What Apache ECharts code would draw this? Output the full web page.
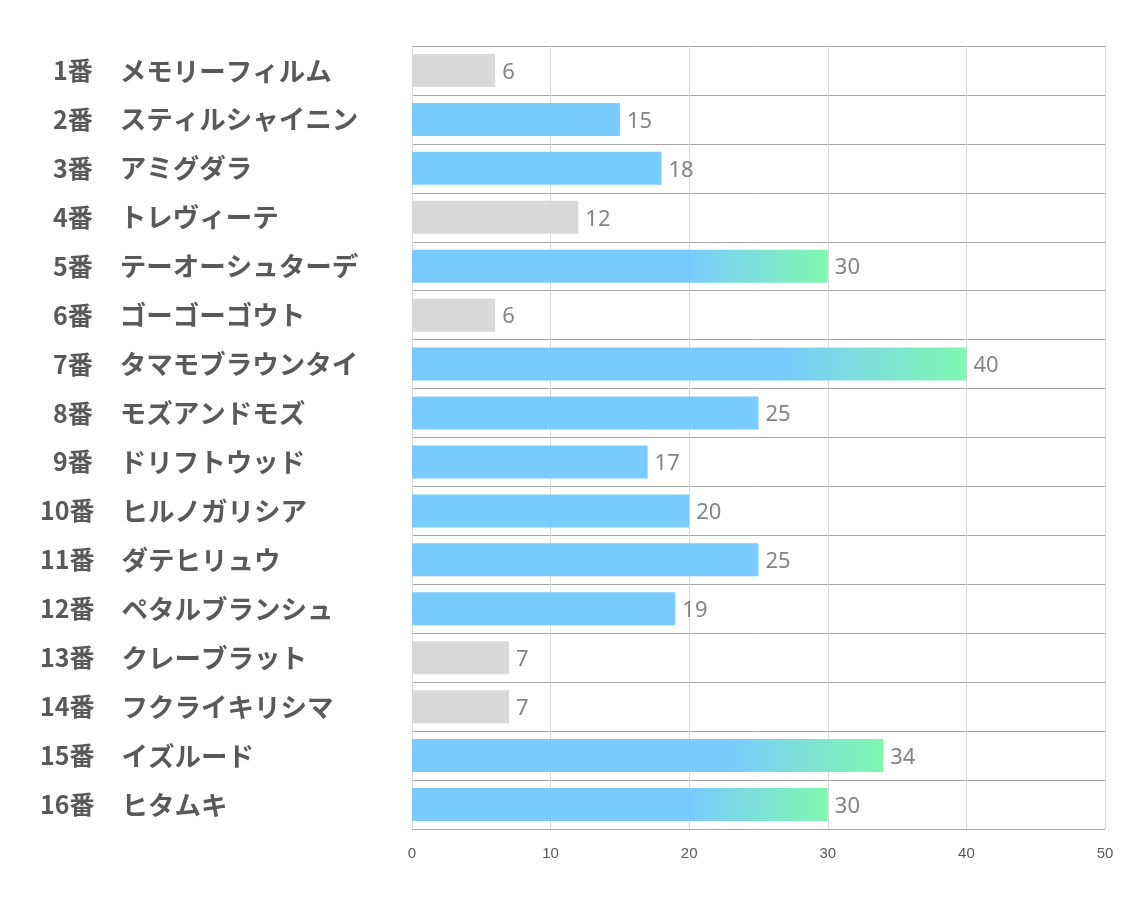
<!DOCTYPE html>
<html><head><meta charset="utf-8">
<script src="https://cdn.jsdelivr.net/npm/echarts@6/dist/echarts.min.js"></script>
<style>html,body{margin:0;padding:0;background:#fff}#c{width:1134px;height:907px}</style>
</head><body><div id="c"></div>
<script>
const numbers = ['1番','2番','3番','4番','5番','6番','7番','8番','9番','10番','11番','12番','13番','14番','15番','16番'];
const names = ['メモリーフィルム','スティルシャイニン','アミグダラ','トレヴィーテ','テーオーシュターデ','ゴーゴーゴウト','タマモブラウンタイ','モズアンドモズ','ドリフトウッド','ヒルノガリシア','ダテヒリュウ','ペタルブランシュ','クレーブラット','フクライキリシマ','イズルード','ヒタムキ'];
const values = [6,15,18,12,30,6,40,25,17,20,25,19,7,7,34,30];
const xTicks = [0,10,20,30,40,50];

const GREY = 'rgb(213,213,213)';
const BLUE = 'rgb(107,197,255)';
const GREEN = 'rgb(114,247,167)';
function colorFor(v){
  if (v <= 12) return GREY;
  if (v >= 30) return new echarts.graphic.LinearGradient(0,0,1,0,[
    {offset:0,color:BLUE},{offset:0.66,color:BLUE},{offset:1,color:GREEN}]);
  return BLUE;
}
const cats = numbers.map((n,i)=> n + '|' + names[i]);
const chart = echarts.init(document.getElementById('c'));
const LBL = {fontWeight:'bold',color:'#595959',fontFamily:'Noto Sans CJK JP'};
chart.setOption({
  animation:false,
  grid:{left:412,right:29,top:46,bottom:78,containLabel:false},
  xAxis:{type:'value',min:0,max:50,interval:10,
    axisLine:{show:false},axisTick:{show:false},
    axisLabel:{margin:17,color:'#595959',fontSize:15,fontFamily:'Liberation Sans Narrow, Liberation Sans, sans-serif',
      formatter:v=> xTicks.includes(v)? String(v):''},
    splitLine:{show:true,lineStyle:{color:'#d9d9d9',width:1}}},
  yAxis:{type:'category',inverse:true,data:cats,
    axisLine:{show:true,lineStyle:{color:'#d9d9d9'}},axisTick:{show:false},
    splitLine:{show:true,lineStyle:{color:'#a6a6a6',width:1}},
    axisLabel:{align:'left',margin:372,
      formatter:s=>{const p=s.split('|');const k=p[0].length>2?'a':'a1';return '{'+k+'|'+p[0]+'}{b|'+p[1]+'}';},
      rich:{
        a:Object.assign({fontSize:25,padding:[0,0,0,0]},LBL),
        a1:Object.assign({fontSize:25,padding:[0,0,0,13]},LBL),
        b:Object.assign({fontSize:26.5,padding:[0,0,0,27]},LBL)
      }}},
  series:[{type:'bar',barWidth:33,
    data:values.map(v=>({value:v,itemStyle:{color:colorFor(v),opacity:0.9}})),
    label:{show:true,position:'right',distance:7,color:'#767676',fontSize:22,fontFamily:'Noto Sans, sans-serif',offset:[0,2]}
  }]
});
</script></body></html>
